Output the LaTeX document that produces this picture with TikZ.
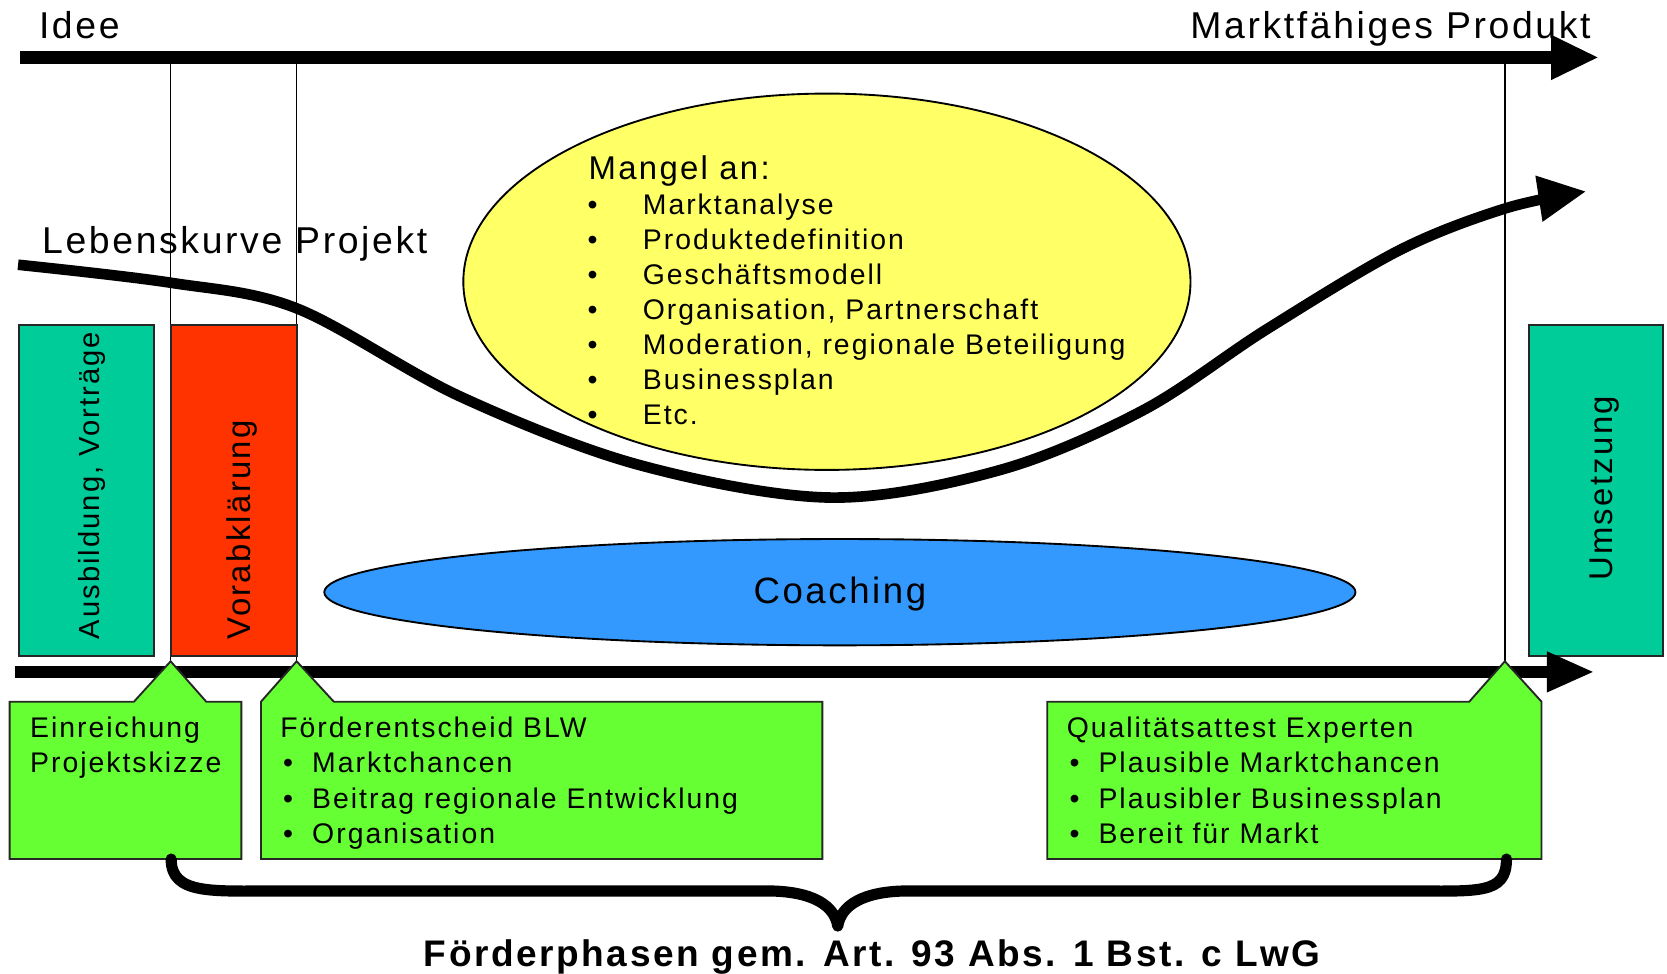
\documentclass[tikz,border=0pt]{standalone}
\usepackage{fontspec}
\setmainfont[LetterSpace=7]{Liberation Sans}
\usepackage{tikz}
\usetikzlibrary{arrows.meta,shapes.geometric}
\definecolor{phasegreen}{RGB}{102,255,51}
\definecolor{phaseteal}{RGB}{0,204,153}
\definecolor{phasered}{RGB}{255,51,0}
\definecolor{lackyellow}{RGB}{255,255,102}
\definecolor{coachblue}{RGB}{51,153,255}

\begin{document}
\begin{tikzpicture}[x=0.1mm, y=-0.1mm,
		txt/.style={inner sep=0pt, anchor=base west, font=\fontsize{7.6}{9}\selectfont},
		head/.style={inner sep=0pt, anchor=base west, font=\fontsize{10}{12}\selectfont},
		vert/.style={inner sep=0pt, anchor=base west, rotate=90},
		phasebox/.style={draw=black!85, line width=0.5pt},
		thickarrow/.style={line width=1.2mm, -{Triangle[length=4.5mm, width=3.9mm]}},
		thinline/.style={line width=0.4pt}]
	\useasboundingbox (0,0) rectangle (1568,916);
	
	\coordinate (ideestart) at (19,54);
	\coordinate (ideeend) at (1504,54);
	\coordinate (timestart) at (14,632);
	\coordinate (timeend) at (1500,632);
	\coordinate (top1) at (160.5,54);
	\coordinate (top2) at (279,54);
	\coordinate (top3) at (1415.5,54);
	\coordinate (tip1) at (160.5,622);
	\coordinate (tip2) at (279,622);
	\coordinate (tip3) at (1415.5,622);
	
	\draw[thinline] (top1) -- (tip1);
	\draw[thinline] (top2) -- (tip2);
	\draw[thinline] (top3) -- (tip3);
	
	\filldraw[phasebox, fill=phaseteal] (18,306) rectangle (145,617);
	\filldraw[phasebox, fill=phasered] (160.5,306) rectangle (279,617);
	\filldraw[phasebox, fill=phaseteal] (1438,306) rectangle (1564,617);
	\node[vert, font=\fontsize{7.8}{10}\selectfont] (ausbildung) at (94,602) {Ausbildung, Vorträge};
	\node[vert, font=\fontsize{8.8}{10}\selectfont] (vorab) at (236,602) {Vorabklärung};
	\node[vert, font=\fontsize{8.8}{10}\selectfont] (umsetzung) at (1517,547) {Umsetzung};
	
	\node[ellipse, draw=black, line width=0.5pt, fill=lackyellow, minimum width=68.4mm, minimum height=35.4mm, inner sep=0pt] (lack) at (777.8,265) {};
	\node[ellipse, draw=black, line width=0.5pt, fill=coachblue, minimum width=97mm, minimum height=10mm, inner sep=0pt] (coaching) at (790,557) {};
	\node[inner sep=0pt, anchor=base, font=\fontsize{9.8}{12}\selectfont] (coachtext) at (790,568) {Coaching};
	
	\draw[line width=1mm, -{Triangle[length=4.5mm, width=4.1mm]}] plot[smooth, tension=0.55] coordinates {(17,249) (161,266) (279,290) (433,373) (600,437) (781,468) (941,442) (1075,386) (1191,310) (1317,235) (1416,196) (1492,180)};
	
	\draw[thickarrow] (ideestart) -- (ideeend);
	\draw[thickarrow, -{Triangle[length=4.5mm, width=3.5mm]}] (timestart) -- (timeend);
	
	\node[head] (idee) at (36,36) {Idee};
	\node[head] (produkt) at (1119,36) {Marktfähiges Produkt};
	\node[head] (lebenskurve) at (39,238) {Lebenskurve Projekt};
	
	\node[txt, font=\fontsize{8.8}{10}\selectfont] (mangel) at (553,168.6) {Mangel an:};
	\foreach \lack [count=\i] in {Marktanalyse, Produktedefinition, Geschäftsmodell, {Organisation, Partnerschaft}, {Moderation, regionale Beteiligung}, Businessplan, Etc.} {
		\node[txt] (lackbullet\i) at (552,168.4+33*\i) {\textbullet};
		\node[txt] (lackitem\i) at (604,168.4+33*\i) {\lack};
	}
	
	\filldraw[phasebox, fill=phasegreen] (9,660) -- (126,660) -- (tip1) -- (194,660) -- (227,660) -- (227,808) -- (9,808) -- cycle;
	\filldraw[phasebox, fill=phasegreen] (245.5,660) -- (tip2) -- (314,660) -- (773.5,660) -- (773.5,808) -- (245.5,808) -- cycle;
	\filldraw[phasebox, fill=phasegreen] (985,660) -- (1382,660) -- (tip3) -- (1450,660) -- (1450,808) -- (985,808) -- cycle;
	
	\node[txt] (einreichung) at (27.7,694) {Einreichung};
	\node[txt] (skizze) at (27.7,727) {Projektskizze};
	
	\node[txt] (entscheid) at (263,694) {Förderentscheid BLW};
	\foreach \blw [count=\i] in {Marktchancen, Beitrag regionale Entwicklung, Organisation} {
		\node[txt] (blwbullet\i) at (265.5,694+33*\i) {\textbullet};
		\node[txt] (blwitem\i) at (293,694+33*\i) {\blw};
	}
	
	\node[txt] (attest) at (1002.7,694) {Qualitätsattest Experten};
	\foreach \att [count=\i] in {Plausible Marktchancen, Plausibler Businessplan, Bereit für Markt} {
		\node[txt] (attbullet\i) at (1005.5,694+33*\i) {\textbullet};
		\node[txt] (attitem\i) at (1032.6,694+33*\i) {\att};
	}
	
	\draw[line width=1.05mm, line cap=round, line join=round] (161,808) .. controls (161,842) and (200,838) .. (262,838) -- (721,838) .. controls (765,838) and (785,852) .. (788,871) .. controls (791,852) and (811,838) .. (855,838) -- (1321,838) .. controls (1390,838) and (1417,842) .. (1417,808);
	
	\node[txt, font=\bfseries\fontsize{9.9}{12}\selectfont] (foerderphasen) at (398,909) {Förderphasen gem. Art. 93 Abs. 1 Bst. c LwG};
\end{tikzpicture}
\end{document}
